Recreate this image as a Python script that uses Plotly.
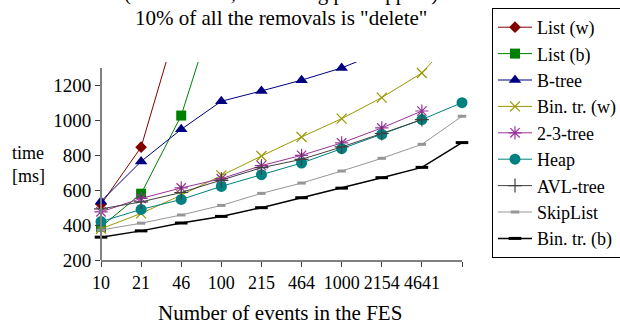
import plotly.graph_objects as go

events = ["10", "21", "46", "100", "215", "464", "1000", "2154", "4641", "10000"]
tick_text = ["10", "21", "46", "100", "215", "464", "1000", "2154", "4641", ""]

list_w = [519, 847, 1630, None, None, None, None, None, None, None]
list_b = [390, 580, 1028, 1755, None, None, None, None, None, None]
b_tree = [536, 765, 949, 1110, 1169, 1231, 1301, 1395, None, None]
bin_w = [379, 467, 572, 685, 796, 905, 1010, 1131, 1272, 1520]
tree23 = [476, 553, 613, 666, 741, 800, 871, 957, 1054, None]
heap = [420, 490, 547, 622, 689, 756, 838, 920, 1005, 1102]
avl = [493, 533, 587, 656, 729, 777, 848, 925, 1005, None]
skiplist = [372, 411, 458, 513, 582, 641, 710, 783, 863, 1024]
bin_b = [331, 367, 412, 450, 500, 557, 612, 672, 731, 873]

y_ticks = [200, 400, 600, 800, 1000, 1200]

FONT = "Liberation Serif"

series = [
    ("List (w)", list_w, "#800000", dict(symbol="diamond", size=9), 1),
    ("List (b)", list_b, "#008000", dict(symbol="square", size=10), 1),
    ("B-tree", b_tree, "#000080", dict(symbol="triangle-up", size=11), 1),
    ("Bin. tr. (w)", bin_w, "#999900", dict(symbol="x-thin-open", size=10, line=dict(width=1.2, color="#999900")), 1),
    ("2-3-tree", tree23, "#993399", dict(symbol="asterisk-open", size=11, line=dict(width=1.2, color="#993399")), 1),
    ("Heap", heap, "#008080", dict(symbol="circle", size=11), 1),
    ("AVL-tree", avl, "#404040", dict(symbol="cross-thin-open", size=10, line=dict(width=1.2, color="#404040")), 1),
    ("SkipList", skiplist, "#969696", dict(symbol="line-ew-open", size=6, line=dict(width=3, color="#969696")), 1),
    ("Bin. tr. (b)", bin_b, "#000000", dict(symbol="line-ew-open", size=9, line=dict(width=3, color="#000000")), 1.5),
]

fig = go.Figure()
for name, vals, color, marker, lw in series:
    m = dict(color=color)
    m.update(marker)
    fig.add_trace(go.Scatter(
        x=events, y=vals, name=name, mode="lines+markers",
        line=dict(color=color, width=lw), marker=m,
        cliponaxis=False, connectgaps=False,
    ))

L, R, T, B = 101, 158, 62, 64
W, H = 620, 324
pw, ph = W - L - R, H - T - B

def px(x):
    return (x - L) / pw

def py(y):
    return (H - B - y) / ph

fig.update_layout(
    width=W, height=H,
    margin=dict(l=L, r=R, t=T, b=B, autoexpand=False),
    paper_bgcolor="white", plot_bgcolor="white",
    font=dict(family=FONT, size=18, color="black"),
    showlegend=True,
    legend=dict(
        x=px(492), y=py(8), xanchor="left", yanchor="top",
        bordercolor="black", borderwidth=1, bgcolor="white",
        font=dict(family=FONT, size=18, color="black"),
        itemwidth=34, maxheight=400,
    ),
    xaxis=dict(
        type="category", categoryorder="array", categoryarray=events,
        range=[0, 9], tickmode="array", tickvals=events, ticktext=tick_text,
        showgrid=False, zeroline=False, showline=True, linecolor="#808080", linewidth=2,
        ticks="outside", ticklen=5, tickcolor="#404040", tickwidth=1,
        tickfont=dict(family=FONT, size=18),
    ),
    yaxis=dict(
        range=[200, 1335], tickmode="array", tickvals=y_ticks,
        showgrid=False, zeroline=False, showline=False,
        ticks="outside", ticklen=5, tickcolor="#404040", tickwidth=1,
        tickfont=dict(family=FONT, size=19),
    ),
    shapes=[
        dict(type="line", xref="paper", yref="y", x0=0, x1=0, y0=200, y1=1300,
             line=dict(color="#808080", width=2), layer="above"),
        dict(type="line", xref="paper", yref="paper", x0=px(494), x1=px(621), y0=py(249), y1=py(249),
             line=dict(color="#808080", width=2)),
    ],
    annotations=[
        dict(text="(Hold model, FES using p = \"upper\")", x=px(281), y=py(-7),
             xref="paper", yref="paper", showarrow=False, xanchor="center", yanchor="middle",
             font=dict(family=FONT, size=21)),
        dict(text="10% of all the removals is \"delete\"", x=px(281), y=py(18.5),
             xref="paper", yref="paper", showarrow=False, xanchor="center", yanchor="middle",
             font=dict(family=FONT, size=21)),
        dict(text="Number of events in the FES", x=px(280), y=py(313),
             xref="paper", yref="paper", showarrow=False, xanchor="center", yanchor="middle",
             font=dict(family=FONT, size=21)),
        dict(text="time", x=px(28), y=py(153),
             xref="paper", yref="paper", showarrow=False, xanchor="center", yanchor="middle",
             font=dict(family=FONT, size=18)),
        dict(text="[ms]", x=px(28), y=py(176),
             xref="paper", yref="paper", showarrow=False, xanchor="center", yanchor="middle",
             font=dict(family=FONT, size=18)),
    ],
)

fig.write_html("out.html")
